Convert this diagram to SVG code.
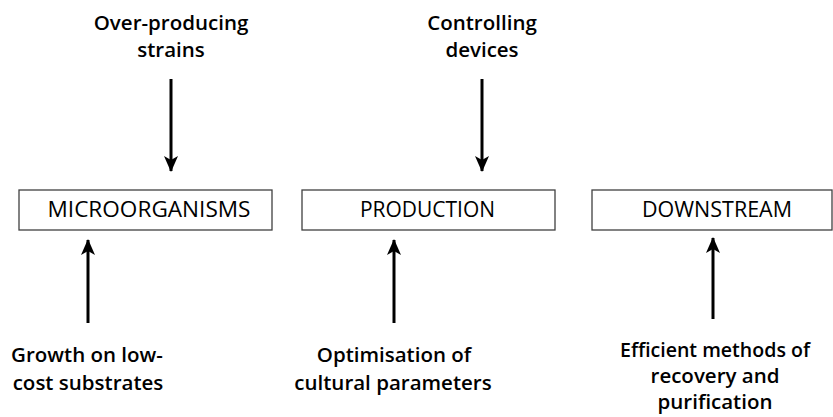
<svg xmlns="http://www.w3.org/2000/svg" width="833" height="417" viewBox="0 0 833 417">
<defs>
<style>
.box{fill:#fff;stroke:#404040;stroke-width:1.3}
.bt{font-family:"Open Sans","Liberation Sans",sans-serif;font-size:21px;font-weight:500;fill:#000;text-anchor:middle}
.lt{font-family:"Open Sans","Liberation Sans",sans-serif;font-size:20.5px;font-weight:600;fill:#000;text-anchor:middle}
.ar{stroke:#000;stroke-width:3;fill:none}
</style>
<marker id="ah" viewBox="0 0 16 14" refX="15" refY="7" markerWidth="16" markerHeight="14" markerUnits="userSpaceOnUse" orient="auto">
<path d="M0,0 L16,7 L0,14 L4,7 Z" fill="#000"/>
</marker>
</defs>
<rect width="833" height="417" fill="#fff"/>
<g id="node-micro"><rect class="box" x="19" y="190" width="253" height="40"/><text class="bt" x="149" y="217" textLength="203" lengthAdjust="spacingAndGlyphs">MICROORGANISMS</text></g>
<g id="node-production"><rect class="box" x="302" y="190" width="253" height="40"/><text class="bt" x="427.5" y="217" textLength="135" lengthAdjust="spacingAndGlyphs">PRODUCTION</text></g>
<g id="node-downstream"><rect class="box" x="592" y="190" width="240" height="40"/><text class="bt" x="717" y="217" textLength="150" lengthAdjust="spacingAndGlyphs">DOWNSTREAM</text></g>
<g id="label-strains"><text class="lt" x="171" y="30">Over-producing</text><text class="lt" x="171" y="57">strains</text></g>
<g id="label-devices"><text class="lt" x="482" y="30">Controlling</text><text class="lt" x="482" y="57">devices</text></g>
<g id="label-growth"><text class="lt" x="87" y="362">Growth on low-</text><text class="lt" x="88" y="390">cost substrates</text></g>
<g id="label-optim"><text class="lt" x="394" y="362">Optimisation of</text><text class="lt" x="393" y="390">cultural parameters</text></g>
<g id="label-eff"><text class="lt" x="715" y="357" textLength="190" lengthAdjust="spacingAndGlyphs">Efficient methods of</text><text class="lt" x="715" y="383">recovery and</text><text class="lt" x="715" y="409">purification</text></g>
<g id="connectors">
<line class="ar" x1="171" y1="79" x2="171" y2="171" marker-end="url(#ah)"/>
<line class="ar" x1="482" y1="79" x2="482" y2="171" marker-end="url(#ah)"/>
<line class="ar" x1="88" y1="323" x2="88" y2="240" marker-end="url(#ah)"/>
<line class="ar" x1="394" y1="323" x2="394" y2="240" marker-end="url(#ah)"/>
<line class="ar" x1="713" y1="319" x2="713" y2="238" marker-end="url(#ah)"/>
</g>
</svg>
